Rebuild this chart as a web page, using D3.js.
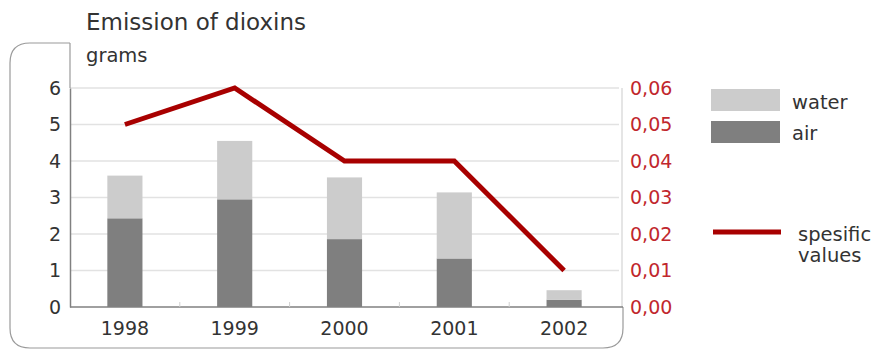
<!DOCTYPE html>
<html>
<head>
<meta charset="utf-8">
<script src="https://cdn.jsdelivr.net/npm/d3@7"></script>
<style>
  body { margin: 0; background: #fff; }
  text { font-family: "DejaVu Sans", Verdana, sans-serif; }
</style>
</head>
<body>
<div id="chart"></div>
<script>
// Data
const years = ["1998", "1999", "2000", "2001", "2002"];
const air = [2.43, 2.95, 1.86, 1.33, 0.2];
const water = [1.17, 1.6, 1.69, 1.81, 0.26];
const specific = [0.05, 0.06, 0.04, 0.04, 0.01];
const leftTicks = [0, 1, 2, 3, 4, 5, 6];
const rightTicks = [0, 0.01, 0.02, 0.03, 0.04, 0.05, 0.06];

const width = 874;
const height = 351;
const plot = {left: 70, right: 619, top: 88, bottom: 307};

const lightGrey = "#cccccc";
const darkGrey = "#7f7f7f";
const red = "#a80000";
const redText = "#c1272d";

const svg = d3.select("#chart")
  .append("svg")
  .attr("width", width)
  .attr("height", height);

// Scales
const xScale = d3.scaleBand()
  .domain(years)
  .range([plot.left, plot.right]);
const barWidth = xScale.bandwidth() * 0.32;

const yScale = d3.scaleLinear()
  .domain([0, 6])
  .range([plot.bottom, plot.top]);

const y2Scale = d3.scaleLinear()
  .domain([0, 0.06])
  .range([plot.bottom, plot.top]);

// Frame with rounded corners
const r = 20;
svg.append("path")
  .attr("d", `M${plot.left},43 L${10 + r},43 Q10,43 10,${43 + r}
    L10,${348 - r} Q10,348 ${10 + r},348 L${623 - r},348 Q623,348 623,${348 - r} L623,${plot.bottom}`)
  .attr("fill", "none")
  .attr("stroke", "#9a9a9a")
  .attr("stroke-width", 1.2);

// Gridlines
svg.append("g")
  .selectAll("line")
  .data(leftTicks.filter(d => d > 0))
  .join("line")
    .attr("x1", plot.left)
    .attr("x2", plot.right)
    .attr("y1", d => yScale(d))
    .attr("y2", d => yScale(d))
    .attr("stroke", "#e2e2e2")
    .attr("stroke-width", 1.5);

// Right axis line
svg.append("line")
  .attr("x1", 622).attr("x2", 622)
  .attr("y1", plot.top).attr("y2", plot.bottom)
  .attr("stroke", "#dddddd")
  .attr("stroke-width", 1.5);

// Stacked bars
const stackData = years.map((y, i) => ({year: y, air: air[i], water: water[i]}));
const series = d3.stack().keys(["air", "water"])(stackData);
const colors = {air: darkGrey, water: lightGrey};

svg.append("g")
  .selectAll("g")
  .data(series)
  .join("g")
    .attr("fill", d => colors[d.key])
  .selectAll("rect")
  .data(d => d)
  .join("rect")
    .attr("x", d => xScale(d.data.year) + (xScale.bandwidth() - barWidth) / 2)
    .attr("width", barWidth)
    .attr("y", d => yScale(d[1]))
    .attr("height", d => yScale(d[0]) - yScale(d[1]));

// Left axis
const leftAxis = d3.axisLeft(yScale)
  .tickValues(leftTicks)
  .tickSize(0)
  .tickPadding(9)
  .tickFormat(d3.format("d"));
svg.append("g")
  .attr("transform", `translate(${plot.left}, 0)`)
  .call(leftAxis)
  .call(g => g.select(".domain").attr("stroke", "#808080").attr("stroke-width", 1.5))
  .call(g => g.selectAll("text")
    .attr("fill", "#333")
    .attr("font-size", 19)
    .attr("font-family", "DejaVu Sans, Verdana, sans-serif"));

// Top part of the left axis line up to the frame
svg.append("line")
  .attr("x1", plot.left).attr("x2", plot.left)
  .attr("y1", 43).attr("y2", plot.top)
  .attr("stroke", "#9a9a9a")
  .attr("stroke-width", 1.2);

// Bottom axis
const bottomAxis = d3.axisBottom(xScale)
  .tickSize(0)
  .tickPadding(15);
svg.append("g")
  .attr("transform", `translate(0, ${plot.bottom})`)
  .call(bottomAxis)
  .call(g => g.select(".domain").remove())
  .call(g => g.selectAll("text")
    .attr("fill", "#333")
    .attr("font-size", 19)
    .attr("font-family", "DejaVu Sans, Verdana, sans-serif"));

svg.append("line")
  .attr("x1", plot.left).attr("x2", 623)
  .attr("y1", plot.bottom).attr("y2", plot.bottom)
  .attr("stroke", "#808080")
  .attr("stroke-width", 1.5);

// Small notches between categories
svg.append("g")
  .selectAll("line")
  .data(years.slice(1))
  .join("line")
    .attr("x1", d => xScale(d))
    .attr("x2", d => xScale(d))
    .attr("y1", plot.bottom - 5)
    .attr("y2", plot.bottom)
    .attr("stroke", "#d0d0d0")
    .attr("stroke-width", 1);

// Right axis
const comma = d3.formatLocale({decimal: ",", thousands: " ", grouping: [3], currency: ["", ""]});
const rightAxis = d3.axisRight(y2Scale)
  .tickValues(rightTicks)
  .tickSize(0)
  .tickPadding(8)
  .tickFormat(comma.format(".2f"));
svg.append("g")
  .attr("transform", "translate(622, 0)")
  .call(rightAxis)
  .call(g => g.select(".domain").remove())
  .call(g => g.selectAll("text")
    .attr("fill", redText)
    .attr("font-size", 19)
    .attr("font-family", "DejaVu Sans, Verdana, sans-serif"));

// Line for specific values
const lineGenerator = d3.line()
  .x((d, i) => xScale(years[i]) + xScale.bandwidth() / 2)
  .y(d => y2Scale(d));
svg.append("path")
  .attr("d", lineGenerator(specific))
  .attr("fill", "none")
  .attr("stroke", red)
  .attr("stroke-width", 5);

// Title and unit
svg.append("text")
  .text("Emission of dioxins")
  .attr("x", 86)
  .attr("y", 30)
  .attr("font-size", 23)
  .attr("fill", "#333");
svg.append("text")
  .text("grams")
  .attr("x", 86)
  .attr("y", 62)
  .attr("font-size", 19.5)
  .attr("fill", "#333");

// Legend
const legend = svg.append("g");
legend.append("rect")
  .attr("x", 711).attr("y", 89)
  .attr("width", 69).attr("height", 22)
  .attr("fill", lightGrey);
legend.append("text")
  .text("water")
  .attr("x", 792).attr("y", 109)
  .attr("font-size", 19.5)
  .attr("fill", "#333");
legend.append("rect")
  .attr("x", 711).attr("y", 121)
  .attr("width", 69).attr("height", 22)
  .attr("fill", darkGrey);
legend.append("text")
  .text("air")
  .attr("x", 792).attr("y", 140)
  .attr("font-size", 19.5)
  .attr("fill", "#333");
legend.append("line")
  .attr("x1", 713).attr("x2", 781)
  .attr("y1", 232).attr("y2", 232)
  .attr("stroke", red)
  .attr("stroke-width", 5);
legend.append("text")
  .text("spesific")
  .attr("x", 798).attr("y", 241)
  .attr("font-size", 19.5)
  .attr("fill", "#333");
legend.append("text")
  .text("values")
  .attr("x", 798).attr("y", 262)
  .attr("font-size", 19.5)
  .attr("fill", "#333");
</script>
</body>
</html>
